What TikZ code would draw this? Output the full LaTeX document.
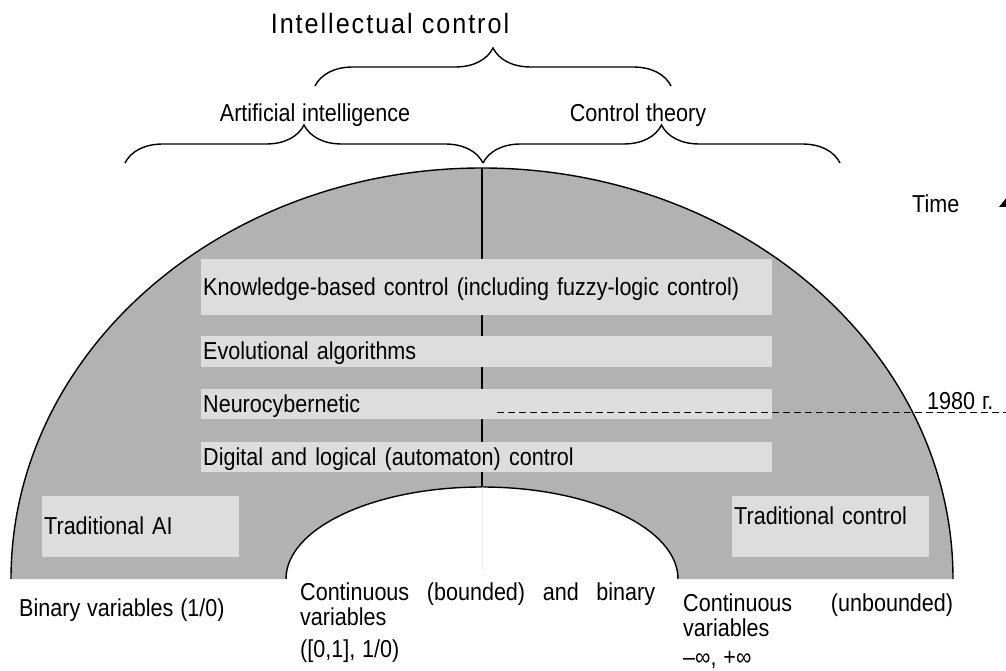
\documentclass[tikz,border=0pt]{standalone}
\usepackage{fontspec}
\setmainfont{Liberation Sans}[FakeStretch=0.88,WordSpace=1.15]
\newfontfamily\titlefont{Liberation Sans}[FakeStretch=0.9,LetterSpace=7]
\usetikzlibrary{decorations.pathreplacing,arrows.meta}
\definecolor{fieldgray}{gray}{0.70}
\definecolor{bandgray}{gray}{0.865}
\definecolor{faintgray}{gray}{0.9}
\tikzset{
  txt/.style={inner sep=0pt, font=\fontsize{24.5}{25}\selectfont},
  band/.style={txt, fill=bandgray, anchor=south west, inner xsep=2pt, text width=567pt, minimum height=#1, text height=17pt, text depth=0pt},
  corner/.style={txt, fill=bandgray, anchor=south west, inner xsep=2pt, text width=193pt, minimum height=61pt, text height=17pt},
  bracket/.style={decorate, decoration={brace, amplitude=38pt}, line width=1.4pt},
}
\begin{document}
\begin{tikzpicture}[x=1pt,y=1pt]
	\useasboundingbox (0,0) rectangle (1006,670);
	\clip (0,0) rectangle (1006,670);
	% half ring
	\fill[fieldgray] (11,91) arc[start angle=180,end angle=0,x radius=471,y radius=411] -- (678,91) arc[start angle=0,end angle=180,x radius=196,y radius=92] -- cycle;
	\draw[line width=1.4pt] (11,91) arc[start angle=180,end angle=0,x radius=471,y radius=411];
	\draw[line width=1.4pt] (678,91) arc[start angle=0,end angle=180,x radius=196,y radius=92];
	\draw[faintgray, line width=0.8pt] (482,183) -- (482,100);
	\draw[line width=1.3pt] (482,502) -- (482,183);
	% bands
	\node[band=56pt] (know) at (201,355) {Knowledge-based control (including fuzzy-logic control)};
	\node[band=31pt] (evol) at (201,303) {Evolutional algorithms};
	\node[band=30pt] (neuro) at (201,251) {Neurocybernetic};
	\node[band=30pt] (digit) at (201,198) {Digital and logical (automaton) control};
	\node[corner, text depth=0pt] (tradai) at (42,113) {Traditional AI};
	\node[corner, text depth=20pt] (tradctl) at (732,113) {Traditional control};
	% time axis
	\coordinate (d0) at (497,258);
	\coordinate (d1) at (1008,258);
	\coordinate (t1) at (1008,474);
	\draw[dash pattern=on 7pt off 4pt, line width=1pt] (d0) -- (d1);
	\draw[-{Triangle[width=18pt,length=11pt]}, line width=1pt] (d1) -- (t1);
	\node[txt, anchor=base west] (time) at (912,457) {Time};
	\node[txt, anchor=base west] (year) at (927,261) {1980 г.};
	% headings
	\node[txt, font=\titlefont\fontsize{28}{29}\selectfont, anchor=base] (intel) at (390,636) {Intellectual control};
	\node[txt, anchor=base] (ai) at (315,548) {Artificial intelligence};
	\node[txt, anchor=base] (ct) at (638,548) {Control theory};
	\coordinate (u1) at (315,584);
	\coordinate (u2) at (671,584);
	\coordinate (l1) at (125,507);
	\coordinate (lm) at (483,507);
	\coordinate (r1) at (840,507);
	\draw[bracket] (u1) -- (u2);
	\draw[bracket] (l1) -- (lm);
	\draw[bracket] (lm) -- (r1);
	% variables
	\node[txt, anchor=base west] (binvar) at (19,54) {Binary variables (1/0)};
	\node[txt, anchor=base west] (bndvar) at (300,70) {\parbox[t]{355pt}{\makebox[355pt][s]{Continuous (bounded) and binary}\\variables\\[7pt]([0,1], 1/0)}};
	\node[txt, anchor=base west] (unbvar) at (683,59) {\parbox[t]{270pt}{\makebox[270pt][s]{Continuous (unbounded)}\\variables\\[4pt]–∞, +∞}};
\end{tikzpicture}
\end{document}
